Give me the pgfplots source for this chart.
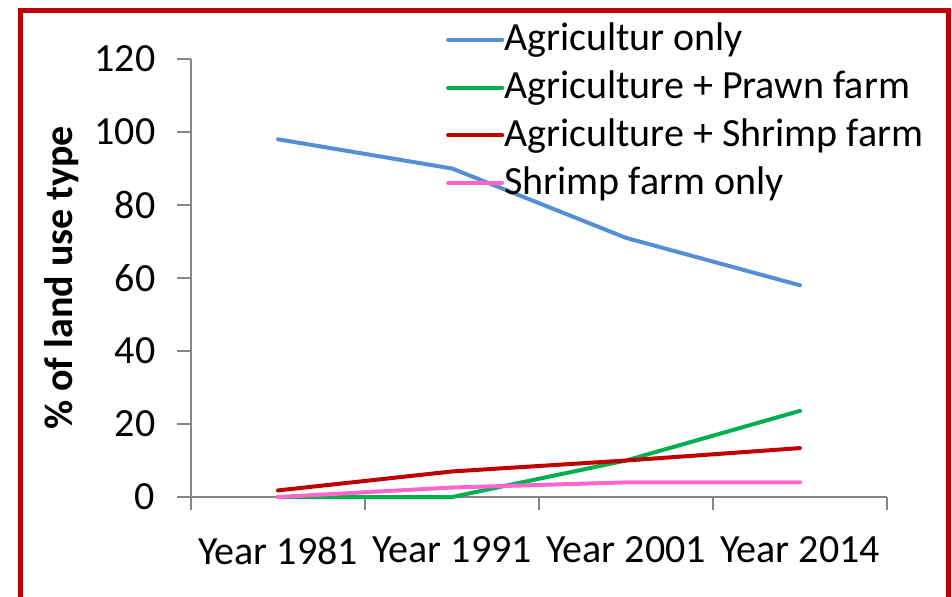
\documentclass[border=0pt]{standalone}
\usepackage{pgfplots}
\pgfplotsset{compat=1.18}
\usepackage{fontspec}
\setmainfont{Carlito}
\definecolor{cblue}{HTML}{558ED5}
\definecolor{cgreen}{HTML}{00B050}
\definecolor{cdred}{HTML}{C00000}
\definecolor{cpink}{HTML}{FF66CC}
\definecolor{axgray}{HTML}{868686}
\begin{document}
\fontsize{20pt}{24pt}\selectfont
\begin{tikzpicture}
\useasboundingbox (0,0) rectangle (476pt,298pt);
\draw[cdred, line width=2.5pt] (10.25pt,-20pt) -- (10.25pt,292.75pt) -- (474pt,292.75pt) -- (474pt,-20pt);
\begin{axis}[
  at={(95.5pt,49.5pt)}, anchor=south west,
  scale only axis, width=348pt, height=219pt,
  xmin=-0.5, xmax=3.5, ymin=0, ymax=120,
  axis x line*=bottom, axis y line*=left,
  axis line style={axgray, line width=0.6pt, -},
  xtick={0,1,2,3},
  xticklabels={Year 1981, Year 1991, Year 2001, Year 2014},
  minor xtick={-0.5,0.5,1.5,2.5,3.5},
  ytick={0,20,40,60,80,100,120},
  tick align=outside,
  major tick length=7pt, minor tick length=6.5pt,
  major x tick style={draw=none},
  minor x tick style={draw=axgray, line width=0.6pt},
  major y tick style={draw=axgray, line width=0.6pt},
  /pgf/number format/assume math mode=true,
  tick label style={font=\fontsize{20pt}{24pt}\selectfont},
  xticklabel style={yshift=-6pt},
  yticklabel style={xshift=-4pt},
  ylabel={\bfseries \% of land use type},
  ylabel style={font=\fontsize{20pt}{24pt}\selectfont, yshift=-5.5pt},
  legend style={draw=none, fill=none, at={(0.366,1.09)}, anchor=north west,
    font=\fontsize{20pt}{24pt}\selectfont, row sep=4pt, inner sep=0pt,
    nodes={inner xsep=0pt, inner ysep=1.5pt}},
  legend cell align=left,
  legend image code/.code={\draw[#1] (0pt,0pt) -- (27pt,0pt);},
  every axis plot/.append style={line width=2pt, line join=round, line cap=round},
  clip=false,
]
\addplot[cblue] coordinates {(0,98) (1,90) (2,71) (3,58)};
\addlegendentry{Agricultur only}
\addplot[cgreen] coordinates {(0,0) (1,0) (2,10) (3,23.6)};
\addlegendentry{Agriculture + Prawn farm}
\addplot[cdred] coordinates {(0,1.8) (1,7) (2,10) (3,13.4)};
\addlegendentry{Agriculture + Shrimp farm}
\addplot[cpink] coordinates {(0,0) (1,2.6) (2,4) (3,4)};
\addlegendentry{Shrimp farm only}
\end{axis}
\end{tikzpicture}
\end{document}
